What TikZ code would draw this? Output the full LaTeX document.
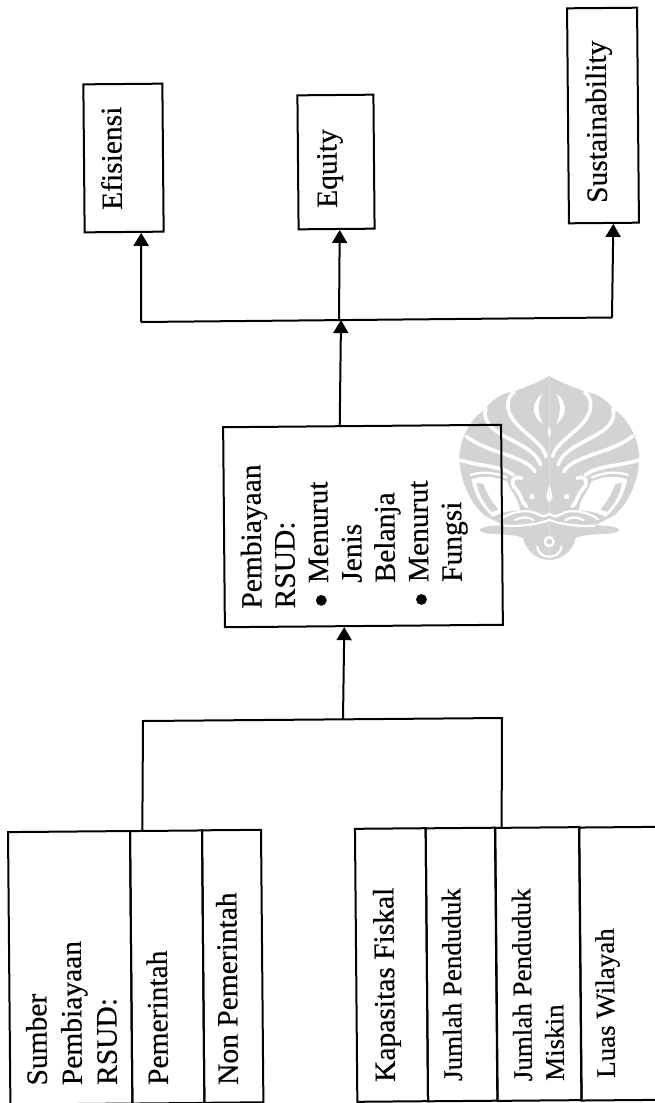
\documentclass[tikz,border=0pt]{standalone}
\usepackage{fontspec}
\setmainfont[FakeBold=0.4]{Liberation Serif}
\usetikzlibrary{arrows.meta,calc}
\definecolor{wm}{HTML}{D3D3D3}
\newcommand{\bul}{\makebox[25pt][l]{\smash{\raisebox{-7.5pt}{\fontsize{44}{44}\selectfont •}}}}
\tikzset{
  box/.style={draw=black,line width=2pt,rectangle,inner sep=0pt,rotate=0.5},
  txt/.style={inner sep=0pt,rotate=90.5,anchor=base west,align=left,font=\fontsize{29.5}{35}\selectfont},
  small/.style={txt,font=\fontsize{27}{32}\selectfont},
  mid/.style={txt,font=\fontsize{29.5}{33.4}\selectfont},
  conn/.style={line width=2pt,line join=miter},
  arr/.style={conn,-{Triangle[length=13pt,width=15pt]}},
  gapw/.style={draw=white,line width=3.6pt,line cap=round,fill=none},
  gapn/.style={draw=white,line width=2.2pt,line cap=round,fill=none}
}
\newcommand{\wmhalf}{%
  \fill[wm] (298,48) .. controls (260,70) and (215,85) .. (190,95)
    .. controls (150,100) and (120,125) .. (105,150)
    .. controls (70,165) and (30,230) .. (28,290)
    .. controls (28,360) and (60,430) .. (105,468)
    .. controls (120,475) and (140,485) .. (160,495)
    .. controls (130,500) and (100,495) .. (88,510)
    .. controls (100,530) and (180,515) .. (220,535)
    .. controls (225,570) and (260,600) .. (298,600) -- cycle;
  % bud interior
  \fill[white] (278,100) .. controls (245,125) and (240,165) .. (278,192)
    .. controls (262,160) and (262,130) .. (278,100) -- cycle;
  \fill[white] (298,200) .. controls (292,212) and (292,225) .. (298,232) -- cycle;
  % petal gaps
  \draw[gapw] (288,290) .. controls (275,235) and (180,205) .. (174,140) .. controls (172,120) and (180,105) .. (192,96);
  \draw[gapw] (272,315) .. controls (250,245) and (120,235) .. (106,170) .. controls (104,160) and (105,155) .. (108,148);
  \draw[gapw] (255,335) .. controls (225,285) and (110,280) .. (48,228);
  \draw[gapw] (190,345) .. controls (150,315) and (90,320) .. (30,300);
  \draw[gapn] (170,352) .. controls (130,335) and (90,335) .. (62,345);
  % open field under the petals
  \fill[white] (172,365) .. controls (180,395) and (205,410) .. (210,452)
    .. controls (180,450) and (150,460) .. (128,470)
    .. controls (95,440) and (70,400) .. (65,358)
    .. controls (100,345) and (140,350) .. (172,365) -- cycle;
  \fill[wm] (100,372) .. controls (110,400) and (125,425) .. (145,448) -- (125,456) .. controls (100,430) and (85,400) .. (80,368) -- cycle;
  % curl, eye and centre
  \draw[gapw] (215,355) .. controls (190,345) and (178,365) .. (196,385) .. controls (215,405) and (215,430) .. (230,440);
  \fill[white] (246,410) circle (8);
  \fill[white] (298,372) -- (288,412) -- (298,428) -- cycle;
  % dish and bottom bud
  \draw[gapn] (152,478) .. controls (180,455) and (235,445) .. (262,462) .. controls (275,470) and (285,470) .. (298,462);
  \draw[gapn] (162,497) .. controls (200,500) and (260,495) .. (298,480);
  \draw[gapn] (195,480) .. controls (215,470) and (235,470) .. (250,480);
  \fill[white] (298,545) circle (17);
  \fill[wm] (298,545) circle (9);
  \draw[gapn] (262,560) .. controls (265,585) and (285,590) .. (298,590);
}
\begin{document}
\begin{tikzpicture}[x=1pt,y=-1pt]
\useasboundingbox (0,0) rectangle (655,1103);
\clip (0,0) rectangle (655,1103);
\fill[white] (0,0) rectangle (655,1103);

% watermark
\begin{scope}[shift={(450,360)},x=0.3333pt,y=-0.3333pt]
  \begin{scope}[shift={(298,0)}]
    \begin{scope}[shift={(-298,0)}]\wmhalf\end{scope}
    \begin{scope}[xscale=-1,shift={(-298,0)}]\wmhalf\end{scope}
  \end{scope}
\end{scope}

% outcome boxes
\node[box,minimum width=79pt,minimum height=148pt] (eff) at (123.5,158) {};
\node[box,minimum width=76pt,minimum height=134pt] (equ) at (336,162) {};
\node[box,minimum width=70pt,minimum height=215pt] (sus) at (603,115.5) {};
\node[txt] (efft) at (122,210) {Efisiensi};
\node[txt] (equt) at (337,208) {Equity};
\node[txt] (sust) at (607,203) {Sustainability};

% central box
\node[box,minimum width=278pt,minimum height=200pt] (mid) at (363,526) {};
\node[mid] (midt) at (462,607) {Pembiayaan\\RSUD:\\\bul Menurut\\\hspace*{25pt}Jenis\\\hspace*{25pt}Belanja\\\bul Menurut\\\hspace*{25pt}Fungsi};

% left table
\node[box,minimum width=122pt,minimum height=272.5pt] (a1) at (70.2,967.8) {};
\node[box,minimum width=72pt,minimum height=272.5pt] (a2) at (167.2,967) {};
\node[box,minimum width=59pt,minimum height=272.5pt] (a3) at (232.7,966.3) {};
\node[txt] (a1t) at (117,1085) {Sumber\\Pembiayaan\\RSUD:};
\node[txt] (a2t) at (168,1085) {Pemerintah};
\node[txt] (a3t) at (238,1085) {Non Pemerintah};

% right table
\node[box,minimum width=70.7pt,minimum height=273pt] (b1) at (391.5,965) {};
\node[box,minimum width=69.3pt,minimum height=273pt] (b2) at (461.5,964.5) {};
\node[box,minimum width=84pt,minimum height=273pt] (b3) at (538.5,964) {};
\node[box,minimum width=122pt,minimum height=273pt] (b4) at (641.2,963.5) {};
\node[txt] (b1t) at (395,1082) {Kapasitas Fiskal};
\node[small] (b2t) at (462,1081) {Jumlah Penduduk};
\node[small] (b3t) at (564,1081) {Jumlah Penduduk\\Miskin};
\node[small] (b4t) at (615,1078) {Luas Wilayah};

% junctions
\coordinate (tl) at (141,322);
\coordinate (tr) at (612,317.5);
\coordinate (tc) at (341,320.1);
\coordinate (tq) at (339,320.2);
\coordinate (bl) at (143,721);
\coordinate (br) at (502,718);
\coordinate (bc) at (343,719.3);

% connectors
\draw[conn] ($(a2.north west)!0.18!(a2.north east)$) -- (bl) -- (br) -- ($(b3.north west)!0.085!(b3.north east)$);
\draw[arr] (bc) -- ($(mid.south west)!0.43!(mid.south east)$);
\draw[arr] ($(mid.north west)!0.42!(mid.north east)$) -- (tc);
\draw[conn] (tl) -- (tr);
\draw[arr] (tl) -- ($(eff.south west)!0.71!(eff.south east)$);
\draw[arr] (tq) -- ($(equ.south west)!0.54!(equ.south east)$);
\draw[arr] (tr) -- ($(sus.south west)!0.63!(sus.south east)$);
\end{tikzpicture}
\end{document}
